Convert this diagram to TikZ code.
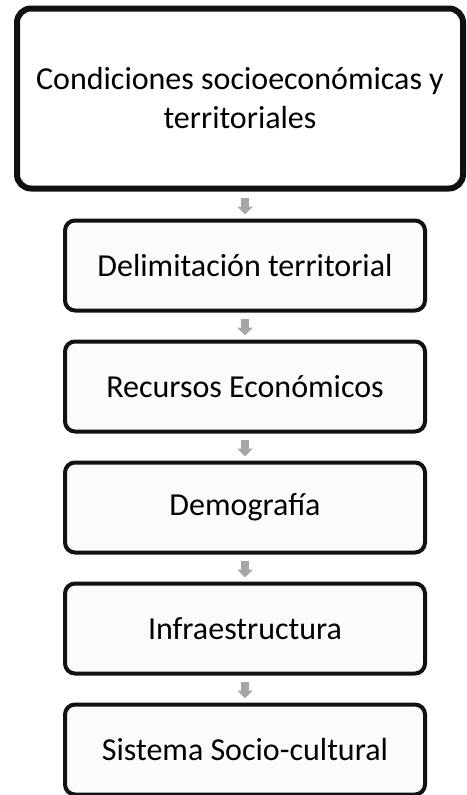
\documentclass[tikz,border=0pt]{standalone}
\usepackage{fontspec}
\setmainfont{Carlito}
\usetikzlibrary{arrows.meta, positioning, calc}
\definecolor{boxEdge}{HTML}{111111}
\definecolor{boxFill}{HTML}{FBFBFB}
\definecolor{linkGray}{HTML}{A6A6A6}

\begin{document}
\begin{tikzpicture}[
  node distance=27pt,
  headbox/.style={draw=boxEdge, rounded corners=14pt, minimum width=446pt, minimum height=180pt, align=center, font=\fontsize{32}{39}\selectfont, fill=white, line width=6pt},
  stagebox/.style={draw=boxEdge, rounded corners=10pt, minimum width=360pt, minimum height=90pt, align=center, font=\fontsize{32}{39}\selectfont, fill=boxFill, line width=4pt},
  link/.style={-{Triangle[width=15pt,length=8pt]}, line width=8pt, draw=linkGray, shorten <=6pt, shorten >=4pt}
]
\useasboundingbox (0,0) rectangle (466pt,-795pt);
\node[headbox] (cond) at (240pt,-98.5pt) {Condiciones socioeconómicas y\\territoriales};
\node[stagebox, below=27pt of cond.south, anchor=north, xshift=5pt] (delim) {Delimitación territorial};
\node[stagebox, below=of delim] (recur) {Recursos Económicos};
\node[stagebox, below=of recur] (demo) {Demografía};
\node[stagebox, below=of demo] (infra) {Infraestructura};
\node[stagebox, below=of infra] (socio) {Sistema Socio-cultural};

\draw[link] (cond.south -| delim.north) -- (delim.north);
\draw[link] (delim) -- (recur);
\draw[link] (recur) -- (demo);
\draw[link] (demo) -- (infra);
\draw[link] (infra) -- (socio);
\end{tikzpicture}
\end{document}
